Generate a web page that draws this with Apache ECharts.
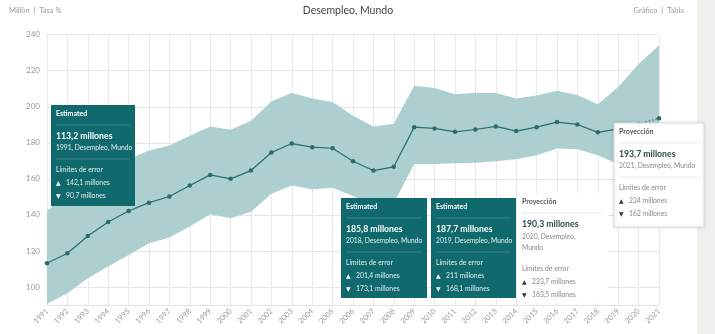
<!DOCTYPE html>
<html><head><meta charset="utf-8">
<script src="https://cdn.jsdelivr.net/npm/echarts@6/dist/echarts.min.js"></script>
<style>html,body{margin:0;padding:0;background:#fff}#c{width:715px;height:334px}</style>
</head><body><div id="c"></div>
<script>
const years = ['1991','1992','1993','1994','1995','1996','1997','1998','1999','2000','2001','2002','2003','2004','2005','2006','2007','2008','2009','2010','2011','2012','2013','2014','2015','2016','2017','2018','2019','2020','2021'];
const unemployment = [113.2,118.7,128.3,136.1,142.2,146.8,150.2,156.3,162.2,160.0,164.6,174.6,179.6,177.6,177.0,169.8,164.6,166.7,188.7,188.0,186.1,187.4,189.1,186.5,188.7,191.5,190.2,185.8,187.7,190.3,193.7];
const upperBound = [142.1,152.0,160.0,166.0,171.0,175.7,178.5,183.9,189.1,187.2,192.2,202.9,207.8,204.6,202.6,195.0,189.1,190.6,211.7,210.4,207.0,207.6,207.6,204.6,206.3,208.9,206.5,201.4,211.0,223.7,234.0];
const lowerBound = [90.7,96.5,104.8,111.3,117.8,124.3,127.4,133.5,140.4,138.1,141.8,151.7,156.3,154.1,155.0,150.5,145.5,146.5,168.3,168.3,168.7,169.0,169.8,170.9,173.1,176.9,176.5,173.1,168.1,163.5,162.0];
const lastEstimatedYear = '2019';
const yTicks = [100,120,140,160,180,200,220,240];

const FONT = 'Lato, "Open Sans", sans-serif';
const TEAL = '#10696c';
const LINE = '#2b6d6e';
const BAND = '#aecfcf';

const splitIdx = years.indexOf(lastEstimatedYear);
const solid = unemployment.map((v,i)=> i<=splitIdx ? v : null);
const dotted = unemployment.map((v,i)=> i>=splitIdx ? v : null);
const bandDiff = upperBound.map((u,i)=> +(u - lowerBound[i]).toFixed(1));

function fmt(v){ return String(v).replace('.', ','); }

function tipBox(x, y, w, h, idx, kind, dark, wrapPlace) {
  const fg = dark ? '#ffffff' : '#555';
  const sub = dark ? '#e3efef' : '#888';
  const valc = dark ? '#ffffff' : '#2d4a4f';
  const sep = dark ? 'rgba(255,255,255,0.18)' : 'rgba(0,0,0,0.08)';
  const els = [];
  els.push({type:'rect', z:100, shape:{x:x,y:y,width:w,height:h},
    style:{fill: dark? TEAL : '#ffffff', stroke: dark? null : (kind==='border' ? '#dcdcdc' : null), lineWidth: 1,
      shadowBlur: kind==='border'?4:0, shadowColor:'rgba(0,0,0,0.12)'}});
  const lx = x + 5;
  let cy = y + 9;
  els.push({type:'text', z:101, style:{x:lx, y:cy, text: dark ? 'Estimated' : 'Proyección', fill: fg, font:'bold 7px '+FONT, verticalAlign:'middle'}});
  els.push({type:'line', z:101, shape:{x1:lx, y1:y+20, x2:x+w-5, y2:y+20}, style:{stroke:sep, lineWidth:1}});
  cy = y + 31;
  els.push({type:'text', z:101, style:{x:lx, y:cy, text: fmt(unemployment[idx]) + ' millones', fill: valc, font:'bold 8.7px '+FONT, verticalAlign:'middle'}});
  let ly;
  if (wrapPlace) {
    els.push({type:'text', z:101, style:{x:lx, y:cy+13, text: years[idx] + ', Desempleo,', fill: sub, font:'6.7px '+FONT, verticalAlign:'middle'}});
    els.push({type:'text', z:101, style:{x:lx, y:cy+24, text: 'Mundo', fill: sub, font:'6.7px '+FONT, verticalAlign:'middle'}});
    ly = cy + 45;
  } else {
    els.push({type:'text', z:101, style:{x:lx, y:cy+12, text: years[idx] + ', Desempleo, Mundo', fill: sub, font:'6.7px '+FONT, verticalAlign:'middle'}});
    els.push({type:'line', z:101, shape:{x1:lx, y1:cy+23, x2:x+w-5, y2:cy+23}, style:{stroke:sep, lineWidth:1}});
    ly = cy + 34;
  }
  els.push({type:'text', z:101, style:{x:lx, y:ly, text:'Límites de error', fill: sub, font:'6.8px '+FONT, verticalAlign:'middle'}});
  els.push({type:'text', z:101, style:{x:lx, y:ly+13, text:'▲', fill: dark?'#fff':'#333', font:'6px "DejaVu Sans"', verticalAlign:'middle'}});
  els.push({type:'text', z:101, style:{x:lx+10, y:ly+13, text: fmt(upperBound[idx]) + ' millones', fill: sub, font:'6.8px '+FONT, verticalAlign:'middle'}});
  els.push({type:'text', z:101, style:{x:lx, y:ly+26, text:'▼', fill: dark?'#fff':'#333', font:'6px "DejaVu Sans"', verticalAlign:'middle'}});
  els.push({type:'text', z:101, style:{x:lx+10, y:ly+26, text: fmt(lowerBound[idx]) + ' millones', fill: sub, font:'6.8px '+FONT, verticalAlign:'middle'}});
  return els;
}

const chart = echarts.init(document.getElementById('c'), null, {renderer:'canvas'});
const graphics = [
  {type:'rect', z:99, shape:{x:697,y:0,width:18,height:334}, style:{fill:'#f2f0ec'}},
  {type:'text', z:101, style:{x:9, y:11, text:'Millón  |  Tasa %', fill:'#999', font:'7.5px '+FONT, verticalAlign:'middle'}},
  {type:'text', z:101, style:{x:348, y:11, text:'Desempleo, Mundo', fill:'#444', font:'10.5px '+FONT, align:'center', verticalAlign:'middle'}},
  {type:'text', z:101, style:{x:684, y:11, text:'Gráfico  |  Tabla', fill:'#999', font:'7.5px '+FONT, align:'right', verticalAlign:'middle'}}
];
graphics.push(...tipBox(51,105,84,101, 0, 'teal', true, false));
graphics.push(...tipBox(341,198,86,100, years.indexOf('2018'), 'teal', true, false));
graphics.push(...tipBox(431,198,85,100, years.indexOf('2019'), 'teal', true, false));
graphics.push(...tipBox(517,193,91,110, years.indexOf('2020'), 'none', false, true));
graphics.push(...tipBox(614,123,90,104, years.indexOf('2021'), 'border', false, false));

chart.setOption({
  animation:false,
  backgroundColor:'#fff',
  grid:{left:47, right:56, top:34.7, bottom:29, containLabel:false},
  xAxis:{type:'category', data:years, boundaryGap:false,
    axisLine:{show:true, lineStyle:{color:'#e2e2e2'}}, axisTick:{show:false},
    axisLabel:{rotate:45, color:'#999', fontSize:7.5, fontFamily:FONT, margin:5, interval:0},
    splitLine:{show:true, lineStyle:{color:'#e8e8e8', width:1}}},
  yAxis:{type:'value', min:90, max:240, interval:10,
    axisLine:{show:false}, axisTick:{show:false},
    axisLabel:{color:'#999', fontSize:8, fontFamily:FONT, margin:7,
      formatter: v => yTicks.indexOf(v) >= 0 ? String(v) : ''},
    splitLine:{show:true, lineStyle:{color:['rgba(0,0,0,0)','#e5e5e5'], width:1}}},
  series:[
    {type:'line', data:lowerBound, stack:'band', symbol:'none', lineStyle:{opacity:0}, areaStyle:{opacity:0}, silent:true, z:1},
    {type:'line', data:bandDiff, stack:'band', symbol:'none', lineStyle:{opacity:0}, areaStyle:{color:BAND, opacity:1}, silent:true, z:1},
    {type:'line', data:solid, symbol:'circle', symbolSize:4.5, showSymbol:true, itemStyle:{color:LINE}, lineStyle:{color:LINE, width:1.2}, z:5},
    {type:'line', data:dotted, symbol:'circle', symbolSize:4.5, itemStyle:{color:LINE}, lineStyle:{color:LINE, width:1.2, type:[1.5,2]}, z:5}
  ],
  graphic: graphics
});
</script></body></html>
